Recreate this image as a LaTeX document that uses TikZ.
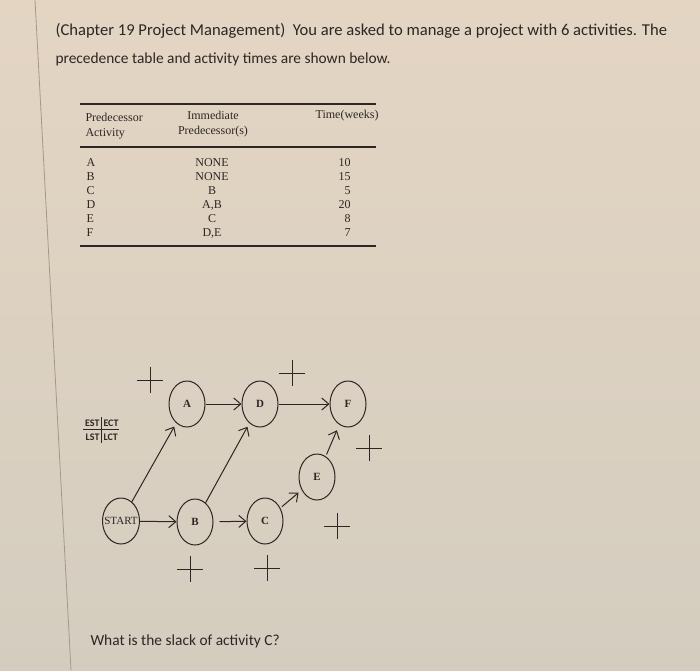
\documentclass[tikz,border=0pt]{standalone}
\usepackage{fontspec}
\setmainfont{Liberation Serif}
\newfontfamily\qfont{Carlito}
\usetikzlibrary{shapes.geometric,arrows.meta,positioning}
\definecolor{paper}{RGB}{228,213,195}
\definecolor{paperlow}{RGB}{212,205,191}
\definecolor{ink}{RGB}{45,38,36}
\definecolor{edge}{RGB}{165,152,138}
\tikzstyle{net}=[
  x=0.5pt,y=-0.5pt,>={Straight Barb[length=3.5pt,width=6pt]},line width=0.5pt
]
\tikzstyle{act}=[
  draw=ink,ellipse,inner sep=0pt,minimum width=18pt,minimum height=23pt,
  text=ink,font=\fontsize{5.5}{6}\selectfont\bfseries
]
\tikzstyle{startact}=[
  act,inner xsep=-3pt,minimum width=18.5pt,font=\fontsize{5.5}{6}\selectfont
]
\tikzstyle{tab}=[
  text=ink,inner sep=0pt,font=\fontsize{6}{7}\selectfont
]
\tikzstyle{prose}=[
  text=ink,inner sep=0pt,anchor=base west,font=\qfont\fontsize{7.7}{9}\selectfont
]
\tikzstyle{key}=[
  text=ink,inner sep=0pt,font=\qfont\bfseries\fontsize{5}{6}\selectfont
]
\tikzstyle{rule}=[
  draw=ink,line width=0.8pt
]
\tikzstyle{link}=[
  ->,draw=ink,line width=0.5pt
]
\tikzset{crossmark/.pic={\draw[ink,line width=0.5pt] (-13,0) -- (13,0) (0,-13) -- (0,13);}}

\begin{document}
\begin{tikzpicture}[net]
  % paper
  \shade[top color=paper,bottom color=paperlow] (0,0) rectangle (700,670);
  \useasboundingbox (0,0) rectangle (700,670);
  \draw[edge,line width=0.4pt] (35,0) -- (71,670);

  % question
  \node (title1) [prose,font=\qfont\fontsize{8.3}{9}\selectfont] at (55,35) {(Chapter 19 Project Management)\ \ You are asked to manage a project with 6 activities. The};
  \node (title2) [prose] at (55,63) {precedence table and activity times are shown below.};

  % table
  \draw[rule] (80,104) -- (376,104);
  \draw[rule] (80,147) -- (376,147);
  \draw[rule] (80,246) -- (376,246);
  \node (hact1) [tab,anchor=base west] at (85,121) {Predecessor};
  \node (hact2) [tab,anchor=base west] at (85,136) {Activity};
  \node (hpre1) [tab,anchor=base] at (213,119) {Immediate};
  \node (hpre2) [tab,anchor=base] at (213,134) {Predecessor(s)};
  \node (htime) [tab,anchor=base east] at (379,118) {Time(weeks)};
  \foreach \act/\pre/\wk [count=\i] in {A/NONE/10,B/NONE/15,C/B/5,D/{A,B}/20,E/C/8,F/{D,E}/7} {
    \node (r\i a) [tab,anchor=base west] at (86,152+14*\i) {\act};
    \node (r\i p) [tab,anchor=base] at (212,152+14*\i) {\pre};
    \node (r\i t) [tab,anchor=base east] at (351,152+14*\i) {\wk};
  }

  % key
  \node (est) [key,anchor=base east] at (100,426) {EST};
  \node (ect) [key,anchor=base west] at (103,426) {ECT};
  \node (lst) [key,anchor=base east] at (100,440) {LST};
  \node (lct) [key,anchor=base west] at (103,440) {LCT};
  \draw[ink,line width=0.5pt] (83,429) -- (119,429);
  \draw[ink,line width=0.5pt] (101,417) -- (101,443);

  % network
  \node (A) [act] at (187,404) {A};
  \node (D) [act] at (260,404) {D};
  \node (F) [act] at (348,404) {F};
  \node (E) [act] at (317,477) {E};
  \node (start) [startact] at (121,521) {START};
  \node (B) [act] at (195,522) {B};
  \node (C) [act] at (265,521) {C};

  \draw[link] (A) -- (D);
  \draw[link] (D) -- (F);
  \draw[link] (start) -- (B);
  \draw[link,shorten <=3pt] (B) -- (C);
  \draw[link,shorten <=1pt,shorten >=2pt] (C) -- (E);
  \draw[link,shorten <=1pt,shorten >=3pt] (E) -- (F);
  \draw[link,shorten >=2pt] (start) -- (A);
  \draw[link,shorten >=2pt] (B) -- (D);

  % time boxes
  \pic at (150,380) {crossmark};
  \pic at (292,373) {crossmark};
  \pic at (369,448) {crossmark};
  \pic at (337,526) {crossmark};
  \pic at (190,569) {crossmark};
  \pic at (267,568) {crossmark};

  \node (ask) [prose] at (90,645) {What is the slack of activity C?};
\end{tikzpicture}
\end{document}
